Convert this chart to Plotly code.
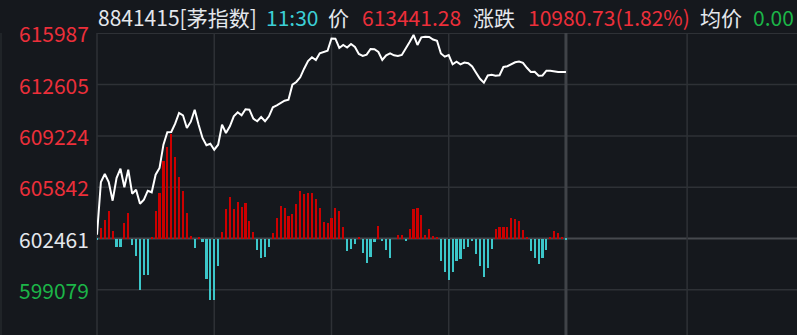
import plotly.graph_objects as go

# ---- data ----
prev_close = 602461
minutes = list(range(121))  # 9:30 .. 11:30
price = [602711, 606185, 606713, 606185, 604953, 606449, 607062, 605836, 606996, 605414,
         605678, 604755, 605019, 605612, 605507, 606667, 607108, 608644, 609462, 609481,
         610029, 610734, 610582, 609745, 610160, 610951, 609963, 609086, 608605, 608710,
         608315, 608644, 609963, 609416, 609857, 610516, 610780, 610582, 610978, 610951,
         610358, 610187, 610470, 610187, 610516, 611110, 611242, 611413, 611545, 611611,
         612600, 612778, 613087, 613654, 614162, 614406, 614228, 614669, 614755, 614841,
         615645, 615632, 615019, 615217, 615052, 615283, 615085, 614623, 614491, 614577,
         614953, 614933, 614755, 614228, 614538, 614669, 614538, 614491, 614557, 614953,
         615414, 615876, 615217, 615724, 615764, 615744, 615579, 615500, 614656, 614445,
         614557, 613944, 614116, 613944, 614063, 614010, 613799, 613391, 612988, 612731,
         613206, 613252, 613186, 613219, 613766, 613819, 613964, 614076, 614129, 614043,
         613713, 613437, 613456, 613186, 613206, 613522, 613516, 613470, 613441, 613441,
         613441]
flow = [-1, 10.7, 18.7, 27.7, 7.7, -8, -8, 15.7, 25.7, -6,
        -17, -51, -36, -36, 1, 27.7, 45.7, 77.7, 91.7, 104.7,
        81.7, 61.7, 47.7, 25.7, 2.7, -9, 1, -3, -40, -61,
        -61, -27, 6.7, 29.7, 41.7, 29.7, 36.7, 31.7, 35.7, 17.7,
        6.7, -11, -19, -18, -8, 5.7, 20.7, 32.7, 30.7, 22.7,
        24.7, 34.7, 47.7, 44.7, 45.7, 45.7, 39.7, 30.7, 16.7, 15.7,
        20.7, 30.7, 27.7, 11.7, -12, -10, -5, 1.7, -14, -24,
        -18, -3, 12.7, -2, -11, -19, 0, 3.7, 3.7, -2,
        9.7, 29.7, 30.7, 23.7, 3.7, 9.7, 2.7, 1.7, -22, -33,
        -41, -33, -22, -20, -10, -8, -2, -15, -27, -38,
        -29, -10, 9.7, 11.7, 11.7, 11.7, 20.7, 19.7, 17.7, 8.7,
        1.7, -12, -19, -25, -19, -11, 1.7, 7.7, 5.7, 0.7,
        -0.7]
tick_vals = [615987, 612605, 609224, 605842, 602461, 599079]
time_grid = [30, 60, 90, 151]
midday = 120

BG = "#15181d"
GRID = "#2e3136"
RED_T = "#ec2f3a"
GREEN_T = "#1cb548"
WHITE_T = "#e4e7ec"
CYAN_T = "#3ccfd6"
BAR_RED = "#cc0000"
BAR_CYAN = "#3cc6c9"
FONT = "Noto Sans CJK SC"

W, H = 797, 335
L, T = 97, 33
PW, PH = W - L, H - T

bar_colors = [BAR_RED if v > 0 else BAR_CYAN for v in flow]

fig = go.Figure()
fig.add_trace(go.Bar(x=minutes, y=flow, marker_color=bar_colors, marker_line_width=0,
                     width=0.55, yaxis="y2", hoverinfo="skip"))
fig.add_trace(go.Scatter(x=minutes, y=price, mode="lines",
                         line=dict(color="#ffffff", width=2), hoverinfo="skip"))

shapes = []
for v in tick_vals:
    if v == prev_close:
        continue
    shapes.append(dict(type="line", xref="paper", x0=0, x1=1, yref="y", y0=v, y1=v,
                       line=dict(color=GRID, width=1.5), layer="below"))
shapes.append(dict(type="line", xref="paper", x0=0, x1=1, yref="y", y0=prev_close, y1=prev_close,
                   line=dict(color="#46494e", width=2), layer="below"))
for m in time_grid:
    shapes.append(dict(type="line", xref="x", x0=m, x1=m, yref="paper", y0=0, y1=1,
                       line=dict(color=GRID, width=1.5), layer="below"))
shapes.append(dict(type="line", xref="x", x0=midday, x1=midday, yref="paper", y0=0, y1=1,
                   line=dict(color="#404348", width=3), layer="below"))
shapes.append(dict(type="line", xref="paper", x0=0, x1=0, yref="paper", y0=0, y1=1,
                   line=dict(color=GRID, width=1.5), layer="below"))
shapes.append(dict(type="line", xref="paper", x0=-(L - 1) / PW, x1=-(L - 1) / PW, yref="paper", y0=0, y1=1,
                   line=dict(color="#25282d", width=1.5), layer="below"))

annotations = []
label_colors = [RED_T, RED_T, RED_T, RED_T, WHITE_T, GREEN_T]
for v, c in zip(tick_vals, label_colors):
    annotations.append(dict(text=str(v), xref="paper", x=-6 / PW, xanchor="right",
                            yref="y", y=v, yanchor="middle", showarrow=False,
                            font=dict(family=FONT, size=21, color=c)))

title_parts = [
    ("8841415[茅指数]", 96, WHITE_T),
    ("11:30", 264, CYAN_T),
    ("价", 326, WHITE_T),
    ("613441.28", 360, RED_T),
    ("涨跌", 471, WHITE_T),
    ("10980.73(1.82%)", 526, RED_T),
    ("均价", 698, WHITE_T),
    ("0.00", 751, GREEN_T),
]
for txt, px, c in title_parts:
    annotations.append(dict(text=txt, xref="paper", x=(px - L) / PW, xanchor="left",
                            yref="paper", y=(H - 16.5) / PH, yanchor="middle", showarrow=False,
                            font=dict(family=FONT, size=21, color=c)))

px_per_unit = 51.3 / 3381.5
y_top = prev_close + (238.5 - T) / px_per_unit
y_bot = prev_close - (H - 238.5) / px_per_unit

fig.update_layout(
    width=W, height=H,
    margin=dict(l=L, r=0, t=T, b=0),
    paper_bgcolor=BG, plot_bgcolor=BG,
    showlegend=False,
    bargap=0,
    xaxis=dict(range=[0, PW / 3.908], showgrid=False, zeroline=False, showticklabels=False,
               fixedrange=True),
    yaxis=dict(range=[y_bot, y_top], showgrid=False, zeroline=False, showticklabels=False),
    yaxis2=dict(range=[-(H - 238.5), 238.5 - T], overlaying="y", showgrid=False,
                zeroline=False, showticklabels=False),
    shapes=shapes,
    annotations=annotations,
)

fig.write_html("out.html")
